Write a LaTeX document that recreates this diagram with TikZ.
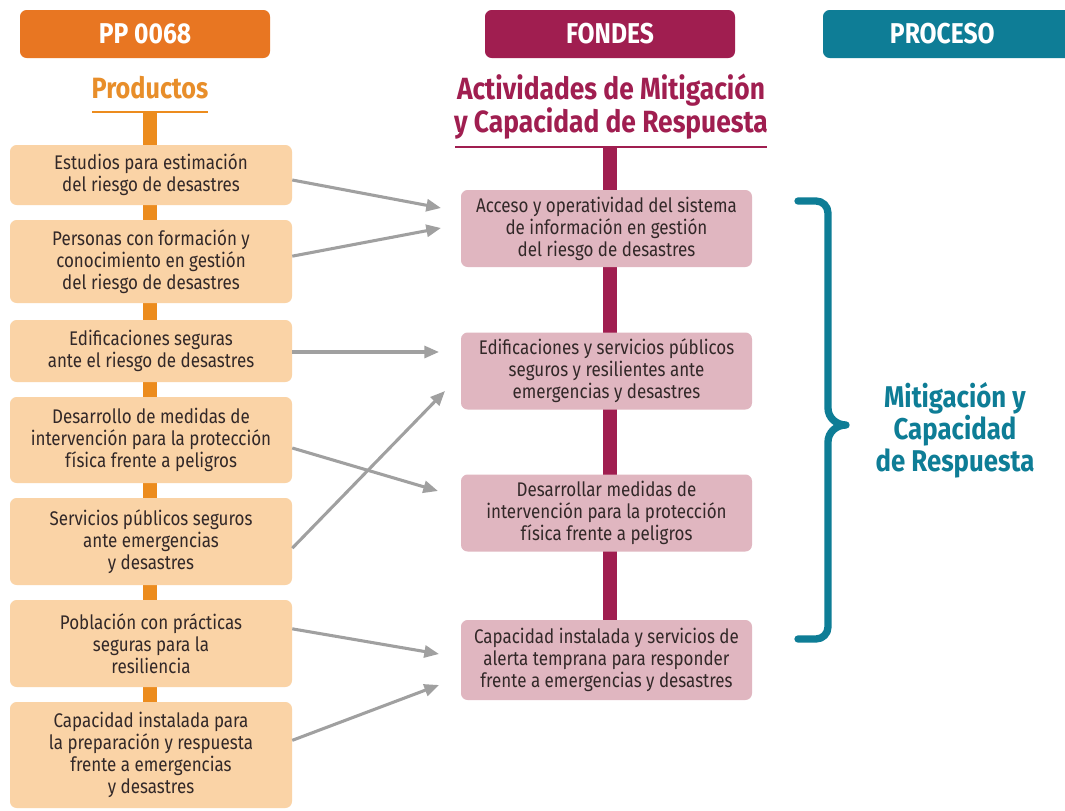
\documentclass[tikz,border=0pt]{standalone}
\usepackage{fontspec}
\setmainfont{Fira Sans}[FakeStretch=0.86]
\usetikzlibrary{arrows.meta,calc}
\definecolor{hdrorange}{RGB}{232,118,34}
\definecolor{prodorange}{RGB}{232,142,42}
\definecolor{barorange}{RGB}{236,140,30}
\definecolor{peach}{RGB}{250,211,166}
\definecolor{crimson}{RGB}{160,30,80}
\definecolor{pinkbox}{RGB}{224,182,192}
\definecolor{tealc}{RGB}{14,125,150}
\definecolor{boxtext}{RGB}{50,40,40}
\definecolor{arrowgray}{RGB}{160,160,160}
\tikzset{
  header/.style={fill=#1, rounded corners=5pt, minimum width=187.5pt, minimum height=36pt,
    text=white, font=\fontsize{21.5}{24}\selectfont\bfseries, inner sep=0pt},
  prodbox/.style={fill=peach, rounded corners=5pt, minimum width=211.5pt, minimum height=#1,
    align=center, text=boxtext, font=\fontsize{14.8}{16.5}\selectfont, inner sep=0pt},
  actbox/.style={fill=pinkbox, rounded corners=5pt, minimum width=218.25pt, minimum height=#1,
    align=center, text=boxtext, font=\fontsize{14.8}{16.5}\selectfont, inner sep=0pt},
  link/.style={draw=arrowgray, line width=2.3pt, -{Triangle[length=11pt,width=9pt]}, shorten >=0pt},
}
\begin{document}
\begin{tikzpicture}[x=0.75pt,y=-0.75pt]
\useasboundingbox (0,0) rectangle (1065,811);
\fill[white] (0,0) rectangle (1065,811);
% headers
\node[header=hdrorange] (h1) at (145,34) {PP 0068};
\node[header=crimson] (h2) at (610,34) {FONDES};
\node[header=tealc, minimum width=189pt] (h3) at (949,34) {\hspace*{-10pt}PROCESO};
% column titles
\node[text=prodorange, font=\fontsize{22}{24}\selectfont\bfseries] (pt) at (150,88) {Productos};
\coordinate (pl1) at (92,112);
\coordinate (pl2) at (208,112);
\draw[barorange, line width=2pt] (pl1) -- (pl2);
\node[text=crimson, align=center, font=\fontsize{23}{22.5}\selectfont\bfseries] (at) at (611,107)
  {Actividades de Mitigación\\y Capacidad de Respuesta};
\coordinate (al1) at (455,147);
\coordinate (al2) at (767,147);
\draw[crimson, line width=2pt] (al1) -- (al2);
% vertical bars
\coordinate (ob1) at (150,112);
\coordinate (ob2) at (150,705);
\draw[barorange, line width=10.5pt] (ob1) -- (ob2);
\coordinate (cb1) at (610,147);
\coordinate (cb2) at (610,622);
\draw[crimson, line width=11pt] (cb1) -- (cb2);
% product boxes
\node[prodbox=45pt] (b1) at (151,175) {Estudios para estimación\\del riesgo de desastres};
\node[prodbox=62.25pt] (b2) at (151,261.5) {Personas con formación y\\conocimiento en gestión\\del riesgo de desastres};
\node[prodbox=46.5pt] (b3) at (151,351) {Edificaciones seguras\\ante el riesgo de desastres};
\node[prodbox=64.5pt] (b4) at (151,440) {Desarrollo de medidas de\\intervención para la protección\\física frente a peligros};
\node[prodbox=65.25pt] (b5) at (151,541.5) {Servicios públicos seguros\\ante emergencias\\y desastres};
\node[prodbox=65.25pt] (b6) at (151,643.5) {Población con prácticas\\seguras para la\\resiliencia};
\node[prodbox=79.5pt] (b7) at (151,755) {Capacidad instalada para\\la preparación y respuesta\\frente a emergencias\\y desastres};
% activity boxes
\node[actbox=57.75pt] (m1) at (606.5,228.5) {Acceso y operatividad del sistema\\de información en gestión\\del riesgo de desastres};
\node[actbox=57.75pt] (m2) at (606.5,371) {Edificaciones y servicios públicos\\seguros y resilientes ante\\emergencias y desastres};
\node[actbox=57.75pt] (m3) at (606.5,513) {Desarrollar medidas de\\intervención para la protección\\física frente a peligros};
\node[actbox=60pt] (m4) at (606.5,660) {Capacidad instalada y servicios de\\alerta temprana para responder\\frente a emergencias y desastres};
% arrow targets
\coordinate (t1) at (441,208);
\coordinate (t2) at (441,228);
\coordinate (t3) at (439,352);
\coordinate (t4) at (438,491);
\coordinate (t5) at (445,391);
\coordinate (t6) at (439,654);
\coordinate (t7) at (439,685);
\draw[link] ([yshift=-3.75pt]b1.east) -- (t1);
\draw[link] ([yshift=4pt]b2.east) -- (t2);
\draw[link] ([yshift=-0.75pt]b3.east) -- (t3);
\draw[link] ([yshift=-6pt]b4.east) -- (t4);
\draw[link] ([yshift=-5pt]b5.east) -- (t5);
\draw[link] ([yshift=11pt]b6.east) -- (t6);
\draw[link] ([yshift=11pt]b7.east) -- (t7);
% bracket
\coordinate (k1) at (798,201);
\coordinate (k2) at (798,639);
\coordinate (kt) at (846,425);
\draw[tealc, line width=5.5pt, line cap=round, line join=round]
  (k1) -- (816,201) to[out=0,in=90] (828,213) -- (828,408)
  to[out=-90,in=180] (kt) to[out=180,in=90] (828,442)
  -- (828,627) to[out=-90,in=0] (816,639) -- (k2);
\node[text=tealc, align=center, font=\fontsize{22.5}{24}\selectfont\bfseries] (mt) at (955,430)
  {Mitigación y\\Capacidad\\de Respuesta};
\end{tikzpicture}
\end{document}
